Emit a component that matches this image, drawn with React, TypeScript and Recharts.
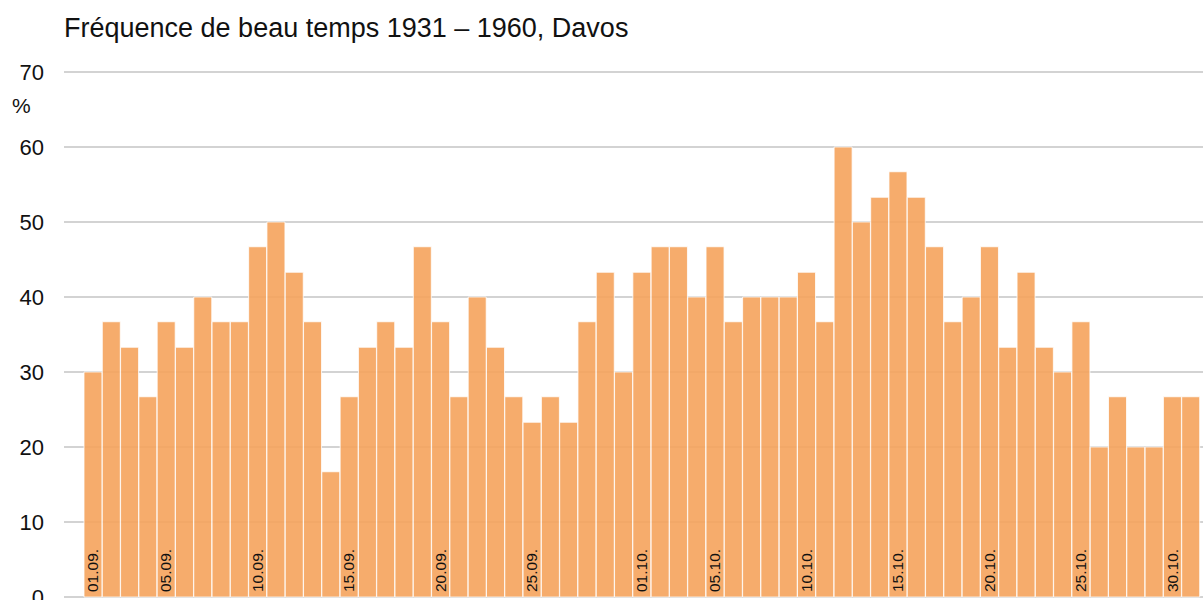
import { BarChart, Bar, XAxis, YAxis, CartesianGrid } from "recharts";

const days = [
  "01.09.", "02.09.", "03.09.", "04.09.", "05.09.", "06.09.", "07.09.", "08.09.", "09.09.", "10.09.",
  "11.09.", "12.09.", "13.09.", "14.09.", "15.09.", "16.09.", "17.09.", "18.09.", "19.09.", "20.09.",
  "21.09.", "22.09.", "23.09.", "24.09.", "25.09.", "26.09.", "27.09.", "28.09.", "29.09.", "30.09.",
  "01.10.", "02.10.", "03.10.", "04.10.", "05.10.", "06.10.", "07.10.", "08.10.", "09.10.", "10.10.",
  "11.10.", "12.10.", "13.10.", "14.10.", "15.10.", "16.10.", "17.10.", "18.10.", "19.10.", "20.10.",
  "21.10.", "22.10.", "23.10.", "24.10.", "25.10.", "26.10.", "27.10.", "28.10.", "29.10.", "30.10.",
  "31.10.",
];

// Fréquence de beau temps, %
const frequency = [
  30, 36.7, 33.3, 26.7, 36.7, 33.3, 40, 36.7, 36.7, 46.7,
  50, 43.3, 36.7, 16.7, 26.7, 33.3, 36.7, 33.3, 46.7, 36.7,
  26.7, 40, 33.3, 26.7, 23.3, 26.7, 23.3, 36.7, 43.3, 30,
  43.3, 46.7, 46.7, 40, 46.7, 36.7, 40, 40, 40, 43.3,
  36.7, 60, 50, 53.3, 56.7, 53.3, 46.7, 36.7, 40, 46.7,
  33.3, 43.3, 33.3, 30, 36.7, 20, 26.7, 20, 20, 26.7,
  26.7,
];

const shownDays = [
  "01.09.", "05.09.", "10.09.", "15.09.", "20.09.", "25.09.",
  "01.10.", "05.10.", "10.10.", "15.10.", "20.10.", "25.10.", "30.10.",
];

const yTicks = [0, 10, 20, 30, 40, 50, 60, 70];

const data = days.map((day, i) => ({ day, value: frequency[i] }));

const FONT = '"Liberation Sans", Arial, sans-serif';

function DayTick(props: any) {
  const { x, y, payload } = props;
  if (!shownDays.includes(payload.value)) return null;
  const tx = x + 5;
  const ty = y - 13;
  return (
    <text
      x={tx}
      y={ty}
      transform={`rotate(-90 ${tx} ${ty})`}
      textAnchor="start"
      fontSize={15.5}
      fontFamily={FONT}
      fill="#111"
    >
      {payload.value}
    </text>
  );
}

export default function App() {
  return (
    <div style={{ position: "absolute", left: 0, top: 0, width: 1203, height: 600, overflow: "hidden", background: "#fff" }}>
      <div
        style={{
          position: "absolute",
          left: 64,
          top: 13,
          fontFamily: FONT,
          fontSize: 27,
          lineHeight: "30px",
          color: "#111",
          whiteSpace: "nowrap",
        }}
      >
        Fréquence de beau temps 1931 – 1960, Davos
      </div>
      <div
        style={{
          position: "absolute",
          left: 12,
          top: 94,
          fontFamily: FONT,
          fontSize: 21,
          lineHeight: "24px",
          color: "#111",
        }}
      >
        %
      </div>
      <div style={{ position: "absolute", left: 0, top: 0 }}>
        <BarChart
          width={1220}
          height={640}
          data={data}
          margin={{ top: 72, right: 0, left: 0, bottom: 13 }}
          barCategoryGap={0}
        >
          <CartesianGrid vertical={false} stroke="#a8a8a8" strokeWidth={1.2} />
          <XAxis
            dataKey="day"
            interval={0}
            height={30}
            axisLine={false}
            tickLine={false}
            padding={{ left: 20, right: 20 }}
            tick={<DayTick />}
          />
          <YAxis
            domain={[0, 70]}
            ticks={yTicks}
            width={64}
            axisLine={false}
            tickLine={false}
            tickMargin={14}
            tick={{ fontSize: 22, fontFamily: FONT, fill: "#111" }}
          />
          <Bar
            dataKey="value"
            fill="#f5a35c"
            fillOpacity={0.9}
            stroke="#ffffff"
            strokeOpacity={0.8}
            strokeWidth={1}
            isAnimationActive={false}
          />
        </BarChart>
      </div>
    </div>
  );
}
